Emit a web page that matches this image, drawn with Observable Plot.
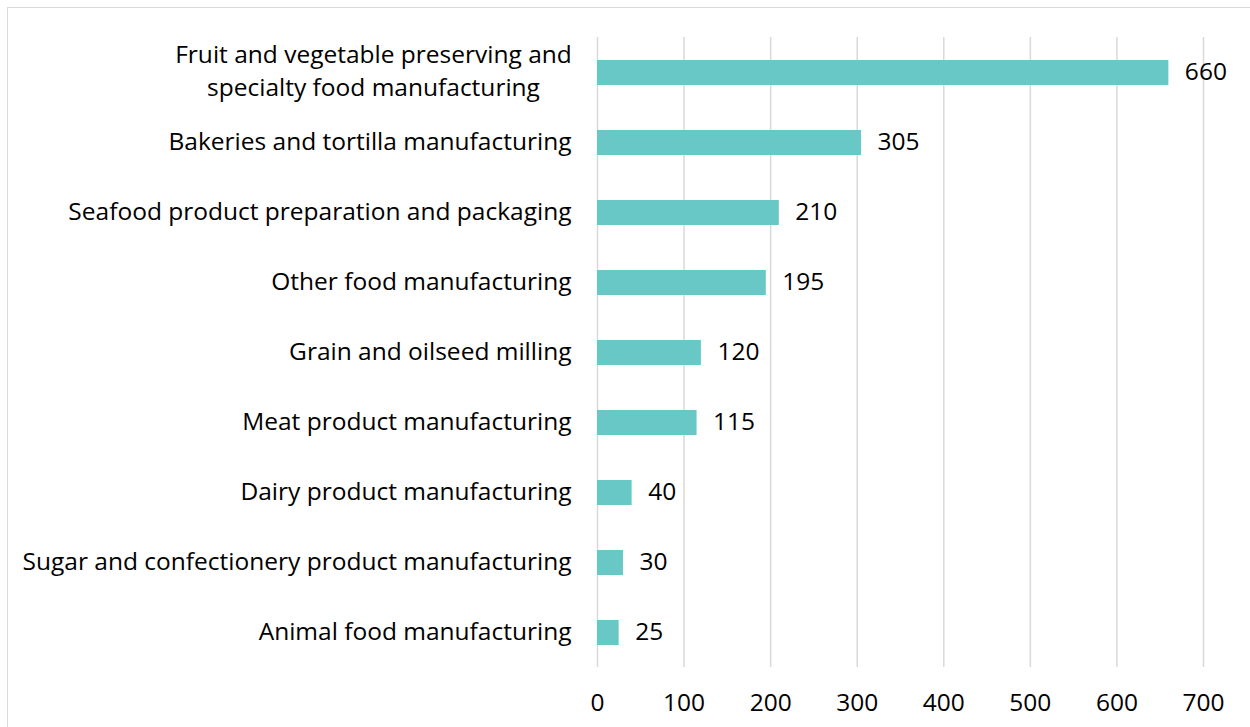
<!DOCTYPE html>
<html>
<head>
<meta charset="utf-8">
<script src="https://cdn.jsdelivr.net/npm/d3@7"></script>
<script src="https://cdn.jsdelivr.net/npm/@observablehq/plot@0.6"></script>
<style>
  html, body { margin: 0; padding: 0; background: #fff; }
  #wrap { position: relative; width: 1250px; height: 727px; overflow: hidden; }
  #frame { position: absolute; left: 7px; top: 7px; width: 1300px; height: 800px; border-left: 1.5px solid #d9d9d9; border-top: 1.5px solid #d9d9d9; }
  #chart { position: absolute; left: 0; top: 0; }
</style>
</head>
<body>
<div id="wrap"><div id="frame"></div><div id="chart"></div></div>
<script>
const categories = [
  "Fruit and vegetable preserving and\nspecialty food manufacturing",
  "Bakeries and tortilla manufacturing",
  "Seafood product preparation and packaging",
  "Other food manufacturing",
  "Grain and oilseed milling",
  "Meat product manufacturing",
  "Dairy product manufacturing",
  "Sugar and confectionery product manufacturing",
  "Animal food manufacturing"
];
const values = [660, 305, 210, 195, 120, 115, 40, 30, 25];
const xTicks = [0, 100, 200, 300, 400, 500, 600, 700];

const data = categories.map((c, i) => ({category: c, value: values[i]}));
const multiLine = categories.filter(c => c.includes("\n"));
const FS = 24.5;

const chart = Plot.plot({
  width: 1250,
  height: 727,
  marginLeft: 597,
  marginRight: 47,
  marginTop: 37,
  marginBottom: 60,
  style: {fontFamily: "'Open Sans', sans-serif", fontSize: FS + "px", color: "#000", background: "transparent"},
  x: {domain: [0, 700], ticks: xTicks},
  y: {domain: categories, paddingInner: 0.643, paddingOuter: 0.3215, align: 0.5},
  marks: [
    Plot.gridX(xTicks, {stroke: "#d9d9d9", strokeOpacity: 1, strokeWidth: 1.5}),
    Plot.barX(data, {x: "value", y: "category", fill: "#67C8C6"}),
    Plot.text(data, {x: "value", y: "category", text: d => String(d.value), textAnchor: "start", dx: 16, dy: -1, fontSize: FS, fill: "#000"}),
    Plot.axisX({ticks: xTicks, tickSize: 0, tickPadding: 26, fontSize: FS, label: null, tickFormat: d => String(d)}),
    Plot.axisY({tickSize: 0, tickPadding: 26, dy: -1, fontSize: FS, label: null, tickFormat: d => d.includes("\n") ? "" : d}),
    Plot.text(multiLine, {y: d => d, text: d => d, frameAnchor: "left", dx: -224, dy: -4, textAnchor: "middle", lineHeight: 1.35, fontSize: FS, fill: "#000"})
  ]
});
document.getElementById("chart").appendChild(chart);
</script>
</body>
</html>
